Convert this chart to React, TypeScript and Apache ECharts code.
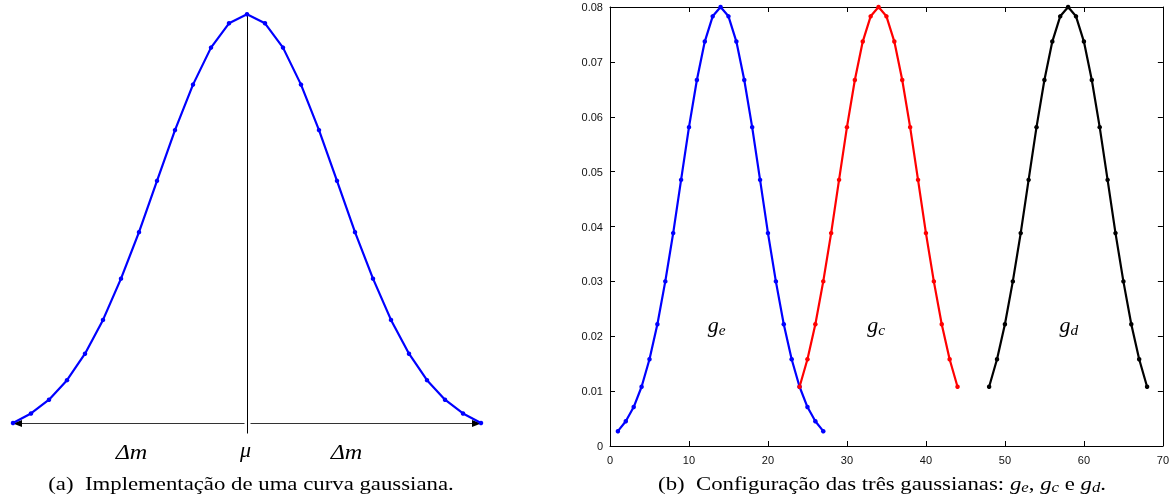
import React, { useEffect, useRef } from "react";
import * as echarts from "echarts";

// Left panel: one gaussian (27 samples)
const leftX = [1, 2, 3, 4, 5, 6, 7, 8, 9, 10, 11, 12, 13, 14, 15, 16, 17, 18, 19, 20, 21, 22, 23, 24, 25, 26, 27];
const leftY = [0.0027, 0.0045, 0.0071, 0.0108, 0.0158, 0.0222, 0.03, 0.0388, 0.0485, 0.0581, 0.0667, 0.0737, 0.0783, 0.08, 0.0783, 0.0737, 0.0667, 0.0581, 0.0485, 0.0388, 0.03, 0.0222, 0.0158, 0.0108, 0.0071, 0.0045, 0.0027];

// Right panel: g_e, g_c, g_d
const geX = [1, 2, 3, 4, 5, 6, 7, 8, 9, 10, 11, 12, 13, 14, 15, 16, 17, 18, 19, 20, 21, 22, 23, 24, 25, 26, 27];
const geY = [0.0027, 0.0045, 0.0071, 0.0108, 0.0158, 0.0222, 0.03, 0.0388, 0.0485, 0.0581, 0.0667, 0.0737, 0.0783, 0.08, 0.0783, 0.0737, 0.0667, 0.0581, 0.0485, 0.0388, 0.03, 0.0222, 0.0158, 0.0108, 0.0071, 0.0045, 0.0027];
const gcX = [24, 25, 26, 27, 28, 29, 30, 31, 32, 33, 34, 35, 36, 37, 38, 39, 40, 41, 42, 43, 44];
const gcY = [0.0108, 0.0158, 0.0222, 0.03, 0.0388, 0.0485, 0.0581, 0.0667, 0.0737, 0.0783, 0.08, 0.0783, 0.0737, 0.0667, 0.0581, 0.0485, 0.0388, 0.03, 0.0222, 0.0158, 0.0108];
const gdX = [48, 49, 50, 51, 52, 53, 54, 55, 56, 57, 58, 59, 60, 61, 62, 63, 64, 65, 66, 67, 68];
const gdY = [0.0108, 0.0158, 0.0222, 0.03, 0.0388, 0.0485, 0.0581, 0.0667, 0.0737, 0.0783, 0.08, 0.0783, 0.0737, 0.0667, 0.0581, 0.0485, 0.0388, 0.03, 0.0222, 0.0158, 0.0108];

const xTicks = [0, 10, 20, 30, 40, 50, 60, 70];
const yTicks = [0, 0.01, 0.02, 0.03, 0.04, 0.05, 0.06, 0.07, 0.08];

const labelNames = ["e", "c", "d"];
const labelPos = [[13.5, 0.022], [33.7, 0.022], [58.1, 0.022]];

const captionA = "(a)  Implementação de uma curva gaussiana.";
const captionB = "(b)  Configuração das três gaussianas: ";

const serif = "'Liberation Serif', 'Times New Roman', serif";
const sans = "'Liberation Sans', Arial, Helvetica, sans-serif";

const pairs = (xs: number[], ys: number[]) => xs.map((x, i) => [x, ys[i]]);

const lineSeries = (name: string, xs: number[], ys: number[], color: string, ax: number) => ({
  name,
  type: "line",
  xAxisIndex: ax,
  yAxisIndex: ax,
  data: pairs(xs, ys),
  symbol: "circle",
  symbolSize: 4.5,
  lineStyle: { color, width: 2.2 },
  itemStyle: { color },
  z: 5,
});

const boxAxis = (extra: any) => ({
  gridIndex: 1,
  type: "value",
  axisLine: { show: true, onZero: false, lineStyle: { color: "#000", width: 1 } },
  splitLine: { show: false },
  axisTick: { show: true, inside: true, length: 5, lineStyle: { color: "#000", width: 1 } },
  ...extra,
});

export default function App() {
  const ref = useRef<HTMLDivElement>(null);
  useEffect(() => {
    if (!ref.current) return;
    const chart = echarts.init(ref.current, null, { renderer: "svg" });
    const xMin = xTicks[0], xMax = xTicks[xTicks.length - 1], xInt = xTicks[1] - xTicks[0];
    const yMin = yTicks[0], yMax = yTicks[yTicks.length - 1], yInt = 0.01;
    const option: any = {
      animation: false,
      grid: [
        { left: 13, top: 14.3, width: 468, height: 408.7 },
        { left: 610, top: 7, width: 558, height: 439 },
      ],
      xAxis: [
        { gridIndex: 0, type: "value", min: 1, max: 27, show: false },
        boxAxis({
          min: xMin, max: xMax, interval: xInt, position: "bottom",
          axisLabel: { show: true, color: "#111", fontFamily: sans, fontSize: 11, margin: 8 },
        }),
        boxAxis({ min: xMin, max: xMax, interval: xInt, position: "top", axisLabel: { show: false } }),
      ],
      yAxis: [
        { gridIndex: 0, type: "value", min: 0.0027, max: 0.08, show: false },
        boxAxis({
          min: yMin, max: yMax, interval: yInt, position: "left",
          axisLabel: {
            show: true, color: "#111", fontFamily: sans, fontSize: 11, margin: 7,
            formatter: (v: number) => (Math.abs(v) < 1e-9 ? "0" : v.toFixed(2)),
          },
        }),
        boxAxis({ min: yMin, max: yMax, interval: yInt, position: "right", axisLabel: { show: false } }),
      ],
      series: [
        lineSeries("gauss", leftX, leftY, "#0000ff", 0),
        lineSeries("ge", geX, geY, "#0000ff", 1),
        lineSeries("gc", gcX, gcY, "#ff0000", 1),
        lineSeries("gd", gdX, gdY, "#000000", 1),
      ],
    };
    chart.setOption(option);

    const p0 = (pt: number[]) => chart.convertToPixel({ xAxisIndex: 0, yAxisIndex: 0 }, pt) as number[];
    const p1 = (pt: number[]) => chart.convertToPixel({ xAxisIndex: 1, yAxisIndex: 1 }, pt) as number[];
    const start = p0([leftX[0], leftY[0]]);
    const end = p0([leftX[leftX.length - 1], leftY[leftY.length - 1]]);
    const peak = p0([leftX[13], leftY[13]]);
    const by = Math.round(start[1]) + 0.5;
    const vx = Math.round(peak[0]) + 0.5;

    const gRich = {
      g: { fontFamily: serif, fontStyle: "italic", fontSize: 20, fill: "#000" },
      s: { fontFamily: serif, fontStyle: "italic", fontSize: 14, fill: "#000", padding: [9, 0, 0, 0] },
    };

    const graphic: any[] = [
      { type: "line", z: 1, shape: { x1: vx, y1: peak[1], x2: vx, y2: by + 10 }, style: { stroke: "#000", lineWidth: 1 } },
      { type: "line", z: 1, shape: { x1: vx - 3, y1: by, x2: start[0] + 6, y2: by }, style: { stroke: "#333", lineWidth: 1 } },
      { type: "line", z: 1, shape: { x1: vx + 3, y1: by, x2: end[0] - 6, y2: by }, style: { stroke: "#333", lineWidth: 1 } },
      { type: "polygon", z: 1, shape: { points: [[start[0], by], [start[0] + 9, by - 3.5], [start[0] + 9, by + 3.5]] }, style: { fill: "#000" } },
      { type: "polygon", z: 1, shape: { points: [[end[0], by], [end[0] - 9, by - 3.5], [end[0] - 9, by + 3.5]] }, style: { fill: "#000" } },
      { type: "text", x: vx - 116, y: by + 28, scaleX: 1.1, style: { text: "Δm", font: `italic 22px ${serif}`, fill: "#000", align: "center", verticalAlign: "middle" } },
      { type: "text", x: vx - 2, y: by + 26, style: { text: "μ", font: `italic 22px ${serif}`, fill: "#000", align: "center", verticalAlign: "middle" } },
      { type: "text", x: vx + 99, y: by + 28, scaleX: 1.1, style: { text: "Δm", font: `italic 22px ${serif}`, fill: "#000", align: "center", verticalAlign: "middle" } },
      { type: "text", x: 251, y: 484, scaleX: 1.2, style: { text: captionA, font: `19px ${serif}`, fill: "#000", align: "center", verticalAlign: "middle" } },
      {
        type: "text", x: 882, y: 484, scaleX: 1.2,
        style: {
          text: `{t|${captionB}}{g|g}{s|${labelNames[0]}}{t|, }{g|g}{s|${labelNames[1]}}{t| e }{g|g}{s|${labelNames[2]}}{t|.}`,
          align: "center", verticalAlign: "middle",
          rich: {
            t: { fontFamily: serif, fontSize: 19, fill: "#000" },
            g: { fontFamily: serif, fontStyle: "italic", fontSize: 19, fill: "#000" },
            s: { fontFamily: serif, fontStyle: "italic", fontSize: 14, fill: "#000", padding: [7, 0, 0, 0] },
          },
        },
      },
    ];
    labelPos.forEach((lp, i) => {
      const q = p1(lp);
      graphic.push({
        type: "text", x: q[0], y: q[1], scaleX: 1.1,
        style: { text: `{g|g}{s|${labelNames[i]}}`, align: "center", verticalAlign: "middle", rich: gRich },
      });
    });
    chart.setOption({ graphic });

    return () => chart.dispose();
  }, []);
  return <div ref={ref} style={{ position: "fixed", left: 0, top: 0, width: 1172, height: 497 }} />;
}
